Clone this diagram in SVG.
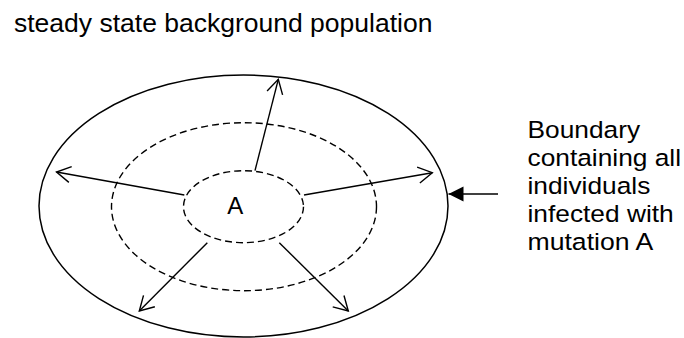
<svg xmlns="http://www.w3.org/2000/svg" width="684" height="338" viewBox="0 0 684 338">
<defs>
<style>
.t{font-family:"Liberation Sans",Arial,sans-serif;fill:#000}
.lbl{font-size:24.5px}
.solid{fill:none;stroke:#000;stroke-width:1.5}
.dash{fill:none;stroke:#000;stroke-width:1.4;stroke-dasharray:7 4}
.con{fill:none;stroke:#000;stroke-width:1.4}
</style>
<marker id="open" markerUnits="userSpaceOnUse" markerWidth="20" markerHeight="20" viewBox="-16 -10 18 20" refX="0" refY="0" orient="auto">
<path d="M-14,-8 L0,0 L-14,8" fill="none" stroke="#000" stroke-width="1.4"/>
</marker>
<marker id="filled" markerUnits="userSpaceOnUse" markerWidth="20" markerHeight="20" viewBox="-16 -10 18 20" refX="0" refY="0" orient="auto">
<path d="M-15,-7.5 L0,0 L-15,7.5 Z" fill="#000"/>
</marker>
</defs>
<rect width="684" height="338" fill="#fff"/>
<text class="t" x="14" y="32.3" font-size="26.5">steady state background population</text>
<g id="outer"><ellipse class="solid" cx="243.5" cy="206" rx="204.5" ry="131"/></g>
<g id="middle"><ellipse class="dash" cx="244" cy="206.7" rx="132.5" ry="84"/></g>
<g id="inner"><ellipse class="dash" cx="243.5" cy="206.7" rx="60" ry="36"/>
<text class="t" x="235.3" y="214" font-size="24" text-anchor="middle">A</text></g>
<g id="label">
<text class="t lbl" x="527.5" y="138" textLength="112.6" lengthAdjust="spacingAndGlyphs">Boundary</text>
<text class="t lbl" x="527.5" y="166" textLength="153.5" lengthAdjust="spacingAndGlyphs">containing all</text>
<text class="t lbl" x="527.5" y="194" textLength="122.8" lengthAdjust="spacingAndGlyphs">individuals</text>
<text class="t lbl" x="527.5" y="222" textLength="146.2" lengthAdjust="spacingAndGlyphs">infected with</text>
<text class="t lbl" x="527.5" y="250" textLength="125.7" lengthAdjust="spacingAndGlyphs">mutation A</text>
</g>
<g id="connectors">
<line class="con" x1="255" y1="170.7" x2="278.3" y2="79.3" marker-end="url(#open)"/>
<line class="con" x1="184.3" y1="195" x2="56.5" y2="172" marker-end="url(#open)"/>
<line class="con" x1="304" y1="195" x2="432.3" y2="172.7" marker-end="url(#open)"/>
<line class="con" x1="207.3" y1="242.7" x2="139.3" y2="311" marker-end="url(#open)"/>
<line class="con" x1="279.3" y1="242.7" x2="348.3" y2="311" marker-end="url(#open)"/>
<line class="con" x1="498" y1="194" x2="448.5" y2="194" marker-end="url(#filled)"/>
</g>
</svg>
